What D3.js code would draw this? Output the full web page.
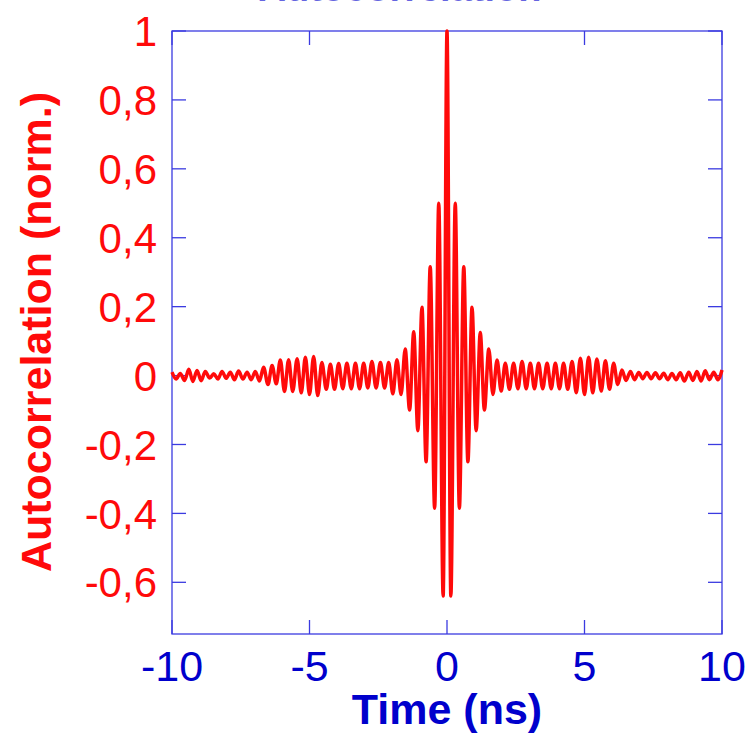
<!DOCTYPE html>
<html>
<head>
<meta charset="utf-8">
<script src="https://cdn.jsdelivr.net/npm/d3@7/dist/d3.min.js"></script>
<style>
  body { margin: 0; background: #fff; }
  svg { display: block; font-family: Arial, "Liberation Sans", sans-serif; }
</style>
</head>
<body>
<svg id="chart" width="748" height="733"></svg>
<script>
// extremes of the autocorrelation trace (ns)
const timeNs = [
  -10.00, -9.85, -9.70, -9.54, -9.39, -9.24, -9.09, -8.94, -8.79, -8.63,
  -8.48, -8.33, -8.18, -8.03, -7.88, -7.73, -7.58, -7.42, -7.27, -7.12,
  -6.97, -6.82, -6.67, -6.51, -6.36, -6.21, -6.06, -5.91, -5.76, -5.61,
  -5.45, -5.30, -5.15, -5.00, -4.85, -4.70, -4.55, -4.39, -4.24, -4.09,
  -3.94, -3.79, -3.64, -3.48, -3.33, -3.18, -3.03, -2.88, -2.73, -2.58,
  -2.42, -2.27, -2.12, -1.97, -1.82, -1.67, -1.52, -1.36, -1.21, -1.06,
  -0.91, -0.76, -0.61, -0.45, -0.30, -0.14,
  0,
  0.14, 0.30, 0.45, 0.61, 0.76, 0.91, 1.06, 1.21, 1.36, 1.52,
  1.67, 1.82, 1.97, 2.12, 2.27, 2.42, 2.58, 2.73, 2.88, 3.03,
  3.18, 3.33, 3.48, 3.64, 3.79, 3.94, 4.09, 4.24, 4.39, 4.55,
  4.70, 4.85, 5.00, 5.15, 5.30, 5.45, 5.61, 5.76, 5.91, 6.06,
  6.21, 6.36, 6.51, 6.67, 6.82, 6.97, 7.12, 7.27, 7.42, 7.58,
  7.73, 7.88, 8.03, 8.18, 8.33, 8.48, 8.63, 8.79, 8.94, 9.09,
  9.24, 9.39, 9.54, 9.70, 9.85, 10.00
];
const autocorr = [
  0.010, -0.010, 0.006, -0.014, 0.018, -0.017, 0.015, -0.015, 0.012, -0.007,
  0.005, -0.010, 0.012, -0.008, 0.010, -0.012, 0.013, -0.010, 0.010, -0.012,
  0.012, -0.016, 0.024, -0.026, 0.029, -0.024, 0.045, -0.046, 0.046, -0.046,
  0.049, -0.050, 0.053, -0.055, 0.055, -0.058, 0.038, -0.040, 0.033, -0.040,
  0.035, -0.038, 0.036, -0.038, 0.036, -0.038, 0.036, -0.036, 0.041, -0.036,
  0.038, -0.036, 0.038, -0.053, 0.046, -0.055, 0.077, -0.100, 0.127, -0.160,
  0.198, -0.250, 0.316, -0.385, 0.500, -0.640,
  1.000,
  -0.640, 0.500, -0.385, 0.316, -0.250, 0.198, -0.160, 0.125, -0.100, 0.077,
  -0.055, 0.045, -0.045, 0.036, -0.040, 0.036, -0.038, 0.041, -0.038, 0.036,
  -0.038, 0.036, -0.038, 0.036, -0.038, 0.036, -0.038, 0.036, -0.040, 0.041,
  -0.050, 0.050, -0.055, 0.053, -0.050, 0.048, -0.045, 0.043, -0.040, 0.036,
  -0.026, 0.016, -0.014, 0.012, -0.012, 0.009, -0.009, 0.009, -0.009, 0.008,
  -0.009, 0.007, -0.012, 0.006, -0.012, 0.008, -0.016, 0.010, -0.014, 0.012,
  -0.016, 0.014, -0.012, 0.010, -0.012, 0.016
];
const xTicks = [-10, -5, 0, 5, 10];
const yTicks = [-0.6, -0.4, -0.2, 0, 0.2, 0.4, 0.6, 0.8, 1];

const svg = d3.select("#chart");
const margin = { top: 31, right: 26, bottom: 99, left: 172 };
const width = 748, height = 733;
const innerWidth = width - margin.left - margin.right;
const innerHeight = height - margin.top - margin.bottom;

const blue = "#0000cc", frameBlue = "#3b3be0", red = "#ff0a0a";

const x = d3.scaleLinear().domain([-10, 10]).range([0, innerWidth]);
const y = d3.scaleLinear().domain([-0.75, 1]).range([innerHeight, 0]);

const g = svg.append("g").attr("transform", `translate(${margin.left},${margin.top})`);

// cut-off title at the top edge
svg.append("text")
  .attr("x", 400).attr("y", 0.5)
  .attr("text-anchor", "middle")
  .attr("font-size", 38).attr("font-weight", "bold")
  .attr("fill", blue).attr("opacity", 0.6)
  .text("Autocorrelation");

// frame
g.append("rect")
  .attr("width", innerWidth).attr("height", innerHeight)
  .attr("fill", "none").attr("stroke", frameBlue).attr("stroke-width", 1.3);

// inner ticks on all sides
const tickLen = 14;
g.selectAll(".xt-b").data(xTicks).enter().append("line")
  .attr("x1", d => x(d)).attr("x2", d => x(d))
  .attr("y1", innerHeight).attr("y2", innerHeight - tickLen)
  .attr("stroke", frameBlue).attr("stroke-width", 1.3);
g.selectAll(".xt-t").data(xTicks).enter().append("line")
  .attr("x1", d => x(d)).attr("x2", d => x(d))
  .attr("y1", 0).attr("y2", tickLen)
  .attr("stroke", frameBlue).attr("stroke-width", 1.3);
g.selectAll(".yt-l").data(yTicks).enter().append("line")
  .attr("x1", 0).attr("x2", tickLen)
  .attr("y1", d => y(d)).attr("y2", d => y(d))
  .attr("stroke", frameBlue).attr("stroke-width", 1.3);
g.selectAll(".yt-r").data(yTicks).enter().append("line")
  .attr("x1", innerWidth).attr("x2", innerWidth - tickLen)
  .attr("y1", d => y(d)).attr("y2", d => y(d))
  .attr("stroke", frameBlue).attr("stroke-width", 1.3);

// tick labels
g.selectAll(".xl").data(xTicks).enter().append("text")
  .attr("x", d => x(d)).attr("y", innerHeight + 47)
  .attr("text-anchor", "middle")
  .attr("font-size", 43).attr("fill", blue)
  .text(d => d < 0 ? "-" + Math.abs(d) : d);

g.selectAll(".yl").data(yTicks).enter().append("text")
  .attr("x", -15).attr("y", d => y(d))
  .attr("dy", "0.36em")
  .attr("text-anchor", "end")
  .attr("font-size", 42).attr("fill", red)
  .text(d => d3.format("")(+d.toFixed(1)).replace(".", ",").replace("−", "-"));

// axis titles
svg.append("text")
  .attr("x", margin.left + innerWidth / 2).attr("y", 724)
  .attr("text-anchor", "middle")
  .attr("font-size", 43).attr("font-weight", "bold").attr("fill", blue)
  .text("Time (ns)");

svg.append("text")
  .attr("transform", `translate(51, 332) rotate(-90)`)
  .attr("text-anchor", "middle")
  .attr("font-size", 43).attr("font-weight", "bold").attr("fill", red)
  .text("Autocorrelation (norm.)");

// trace
const pts = timeNs.map((t, i) => [t, autocorr[i]]);
g.append("path")
  .datum(pts)
  .attr("fill", "none")
  .attr("stroke", red)
  .attr("stroke-width", 3.5)
  .attr("stroke-linejoin", "round")
  .attr("d", d3.line().x(d => x(d[0])).y(d => y(d[1])).curve(d3.curveMonotoneX));
</script>
</body>
</html>
